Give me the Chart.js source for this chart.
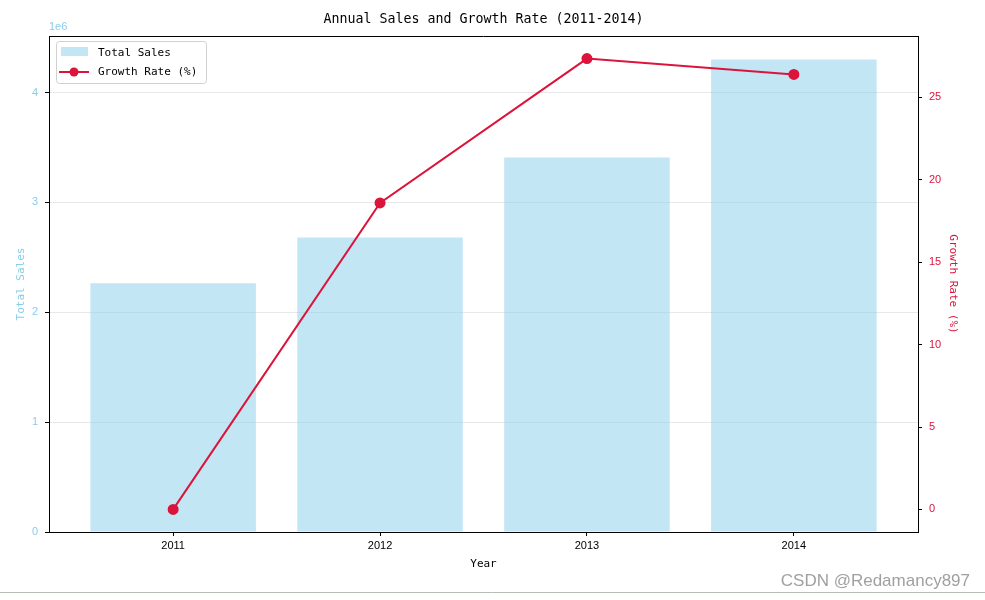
<!DOCTYPE html>
<html>
<head>
<meta charset="utf-8">
<script src="https://cdn.jsdelivr.net/npm/chart.js@4.4.1/dist/chart.umd.min.js"></script>
<style>
  html, body { margin: 0; padding: 0; background: #fff; }
  #wrap { width: 985px; height: 600px; }
</style>
</head>
<body>
<div id="wrap"><canvas id="chart" width="985" height="600"></canvas></div>
<script>
// data
const years = ['2011', '2012', '2013', '2014'];
const totalSales = [2264000, 2680000, 3410000, 4300000];
const growthRate = [0, 18.6, 27.36, 26.4];
const salesTicks = [0, 1, 2, 3, 4];
const rateTicks = [0, 5, 10, 15, 20, 25];

const SKY = 'rgb(135, 206, 235)';
const CRIMSON = '#DC143C';
const MONO = '"DejaVu Sans Mono", monospace';
const SANS = '"Liberation Sans", Arial, sans-serif';

// frame, title, legend, 1e6 offset text, watermark
const decor = {
    id: 'decor',
    afterDraw(chart) {
        const ctx = chart.ctx;
        const a = chart.chartArea;
        ctx.save();
        // top spine
        ctx.strokeStyle = '#000';
        ctx.lineWidth = 1;
        ctx.beginPath();
        ctx.moveTo(a.left, a.top + 0.5);
        ctx.lineTo(a.right, a.top + 0.5);
        ctx.stroke();

        // title
        ctx.fillStyle = '#000';
        ctx.font = '13.3px ' + MONO;
        ctx.textAlign = 'center';
        ctx.textBaseline = 'middle';
        ctx.fillText('Annual Sales and Growth Rate (2011-2014)', (a.left + a.right) / 2, 20);

        // offset text of left axis
        ctx.fillStyle = SKY;
        ctx.font = '11px ' + SANS;
        ctx.textAlign = 'left';
        ctx.fillText('1e6', a.left, 27);

        // legend
        const lx = 56, ly = 41;
        ctx.fillStyle = 'rgba(255,255,255,0.8)';
        ctx.strokeStyle = '#d0d0d0';
        ctx.beginPath();
        ctx.roundRect(lx + 0.5, ly + 0.5, 150, 42, 3);
        ctx.fill();
        ctx.stroke();
        const ds = chart.data.datasets;
        ctx.fillStyle = ds[0].backgroundColor;
        ctx.fillRect(61, 47, 27, 9);
        ctx.strokeStyle = ds[1].borderColor;
        ctx.lineWidth = 2;
        ctx.beginPath();
        ctx.moveTo(59, 72);
        ctx.lineTo(89, 72);
        ctx.stroke();
        ctx.fillStyle = ds[1].borderColor;
        ctx.beginPath();
        ctx.arc(74, 72, 4.5, 0, Math.PI * 2);
        ctx.fill();
        ctx.fillStyle = '#000';
        ctx.font = '11px ' + MONO;
        ctx.textAlign = 'left';
        ctx.fillText(ds[0].label, 98, 53);
        ctx.fillText(ds[1].label, 98, 72);

        // watermark
        ctx.fillStyle = '#a0a0a0';
        ctx.font = '17px ' + SANS;
        ctx.textAlign = 'right';
        ctx.fillText('CSDN @Redamancy897', 970, 581);
        ctx.strokeStyle = '#b4bcb4';
        ctx.lineWidth = 1;
        ctx.beginPath();
        ctx.moveTo(0, 592.5);
        ctx.lineTo(985, 592.5);
        ctx.stroke();
        ctx.restore();
    }
};

const ctx = document.getElementById('chart').getContext('2d');
new Chart(ctx, {
    type: 'bar',
    data: {
        datasets: [
            {
                label: 'Total Sales',
                data: totalSales.map((v, i) => ({ x: i, y: v })),
                backgroundColor: 'rgba(135, 206, 235, 0.5)',
                barPercentage: 0.8,
                categoryPercentage: 1,
                xAxisID: 'x',
                yAxisID: 'y',
                order: 2
            },
            {
                type: 'line',
                label: 'Growth Rate (%)',
                data: growthRate.map((v, i) => ({ x: i, y: v })),
                borderColor: CRIMSON,
                backgroundColor: CRIMSON,
                pointBackgroundColor: CRIMSON,
                pointBorderColor: CRIMSON,
                borderWidth: 2,
                pointRadius: 4.5,
                xAxisID: 'x',
                yAxisID: 'y1',
                order: 1
            }
        ]
    },
    options: {
        responsive: false,
        animation: false,
        layout: { padding: { top: 36, left: 0, right: 0, bottom: 0 } },
        plugins: {
            legend: { display: false },
            tooltip: { enabled: false },
            title: { display: false }
        },
        scales: {
            x: {
                type: 'linear',
                min: -0.6,
                max: 3.6,
                offset: false,
                afterBuildTicks: s => { s.ticks = years.map((_, i) => ({ value: i })); },
                afterFit: s => { s.height = 68; },
                ticks: {
                    callback: v => years[v],
                    color: '#000',
                    font: { family: SANS, size: 11 },
                    padding: 3,
                    maxRotation: 0,
                    autoSkip: false
                },
                grid: { offset: false, drawOnChartArea: false, tickLength: 4, tickColor: '#000' },
                border: { color: '#000', width: 1 },
                title: {
                    display: true,
                    text: 'Year',
                    color: '#000',
                    font: { family: MONO, size: 11 },
                    padding: { top: 0, bottom: 29 }
                }
            },
            y: {
                position: 'left',
                min: 0,
                max: 4515000,
                afterBuildTicks: s => { s.ticks = salesTicks.map(v => ({ value: v * 1e6 })); },
                afterFit: s => { s.width = 49; },
                ticks: {
                    callback: v => v / 1e6,
                    color: SKY,
                    font: { family: SANS, size: 11 },
                    padding: 7
                },
                grid: { color: '#e8e8e8', tickColor: '#000', tickLength: 4 },
                border: { color: '#000', width: 1 },
                title: {
                    display: true,
                    text: 'Total Sales',
                    color: SKY,
                    font: { family: MONO, size: 11 },
                    padding: { top: 15, bottom: 0 }
                }
            },
            y1: {
                position: 'right',
                min: -1.37,
                max: 28.73,
                afterBuildTicks: s => { s.ticks = rateTicks.map(v => ({ value: v })); },
                afterFit: s => { s.width = 67; },
                ticks: {
                    color: CRIMSON,
                    font: { family: SANS, size: 11 },
                    padding: 7
                },
                grid: { drawOnChartArea: false, tickColor: '#000', tickLength: 4 },
                border: { color: '#000', width: 1 },
                title: {
                    display: true,
                    text: 'Growth Rate (%)',
                    color: CRIMSON,
                    font: { family: MONO, size: 11 },
                    padding: { top: 26, bottom: 0 }
                }
            }
        }
    },
    plugins: [decor]
});
</script>
</body>
</html>
